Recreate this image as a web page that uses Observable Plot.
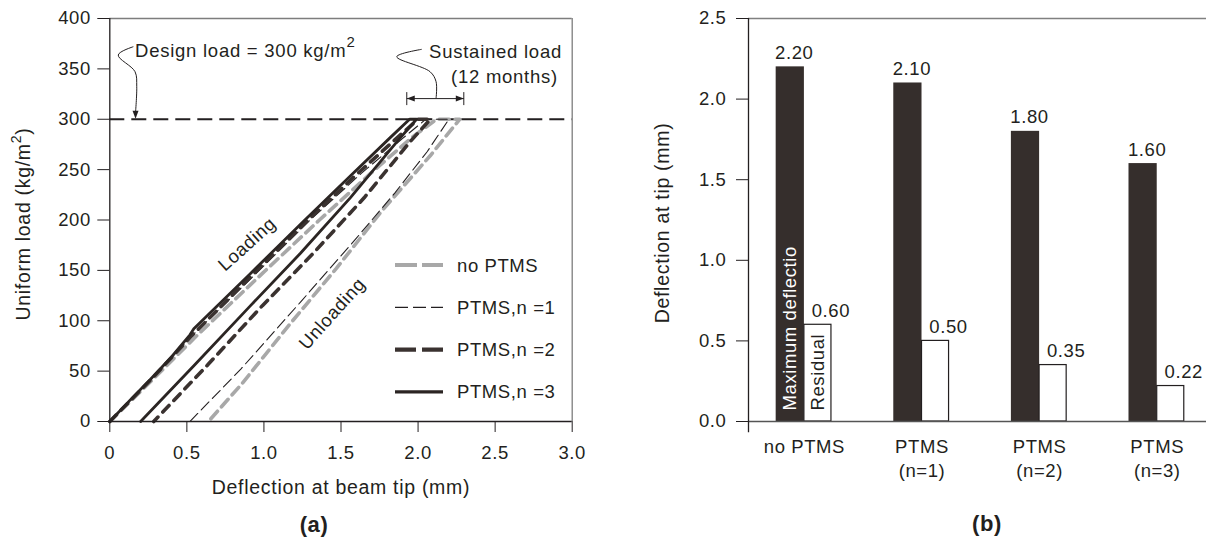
<!DOCTYPE html>
<html>
<head>
<meta charset="utf-8">
<script src="https://cdn.jsdelivr.net/npm/d3@7"></script>
<script src="https://cdn.jsdelivr.net/npm/@observablehq/plot@0.6"></script>
<style>
  body { margin: 0; background: #fff; }
  #wrap { position: relative; width: 1206px; height: 541px; overflow: hidden; }
  #panelA, #panelB { position: absolute; top: 0; }
  #panelA { left: 0; width: 600px; height: 541px; }
  #panelB { left: 600px; width: 606px; height: 541px; }
</style>
</head>
<body>
<div id="wrap"><div id="panelA"></div><div id="panelB"></div></div>
<script>
// ---------------- Panel (a): load–deflection curves (loading -> sustained -> unloading)
const noPTMS_defl = [0, 0.28, 0.57, 0.99, 1.36, 1.69, 1.96, 2.12, 2.27, 2.08, 1.77, 1.47, 1.17, 0.86, 0.64];
const noPTMS_load = [0, 42, 86, 147, 200, 246, 282, 300, 300, 264, 210, 152, 97, 38, 0];
const n1_defl = [0, 0.27, 0.54, 0.95, 1.30, 1.63, 1.90, 2.05, 2.20, 2.06, 1.85, 1.60, 1.24, 0.85, 0.52];
const n1_load = [0, 42, 86, 147, 200, 246, 281, 300, 300, 268, 227, 182, 119, 52, 0];
const n2_defl = [0, 0.27, 0.53, 0.57, 0.93, 1.28, 1.60, 1.86, 2.00, 2.08, 1.95, 1.65, 1.32, 0.99, 0.64, 0.285];
const n2_load = [0, 42, 85, 91, 146, 199, 245, 281, 300, 300, 278, 222, 167, 115, 57, 0];
const n3_defl = [0, 0.13, 0.264, 0.40, 0.52, 0.545, 0.913, 1.259, 1.562, 1.821, 1.945, 1.99, 1.865, 1.56, 1.237, 0.913, 0.55, 0.20];
const n3_load = [0, 21, 42, 64, 86, 92, 147, 199, 244, 282, 300, 300, 278, 222, 167, 115, 56, 0];

const seriesNames = ["no PTMS", "PTMS,n =1", "PTMS,n =2", "PTMS,n =3"];
const xTicksA = [0, 0.5, 1, 1.5, 2, 2.5, 3];
const yTicksA = [0, 50, 100, 150, 200, 250, 300, 350, 400];
const designLoad = 300;
const curveLabels = [
  {text: "Loading", defl: 0.891, load: 176, angle: -42},
  {text: "Unloading", defl: 1.443, load: 107, angle: -48}
];
// annotation anchor points (data units)
const designLabelPos = [0.167, 368];
const designLeader = [[0.156, 371.5], [0.058, 363.3], [0.167, 346.7], [0.178, 331.8], [0.170, 306]];
const sustainedLabelPos = [[2.937, 366.6], [2.911, 341.7]];
const sustainedLeader = [[2.027, 368.9], [1.865, 361.6], [2.081, 346.7], [2.12, 336.8], [2.12, 320.3]];
const sustainedSpan = [1.93, 2.30];
const sustainedSpanLoad = 320;

// ---------------- Panel (b): bars
const barCategories = ["no PTMS", "PTMS\n(n=1)", "PTMS\n(n=2)", "PTMS\n(n=3)"];
const maxDeflection = [2.20, 2.10, 1.80, 1.60];
const residualDeflection = [0.60, 0.50, 0.35, 0.22];
const barSeriesNames = ["Maximum deflectio", "Residual"];
const yTicksB = [0, 0.5, 1.0, 1.5, 2.0, 2.5];

// ---------------- styles
const INK = "#231f20";
const FONT = "'Liberation Sans', Arial, Helvetica, sans-serif";
const baseStyle = {fontFamily: FONT, fontSize: "18.5px", color: INK, background: "transparent", letterSpacing: "0.6px", overflow: "visible"};

const series = [
  {name: seriesNames[0], defl: noPTMS_defl, load: noPTMS_load, stroke: "#a8a8a8", width: 3.6, dash: "10,6", legendDash: "22,5"},
  {name: seriesNames[1], defl: n1_defl, load: n1_load, stroke: INK, width: 1.1, dash: "11,5", legendDash: "13,5"},
  {name: seriesNames[2], defl: n2_defl, load: n2_load, stroke: "#3a3230", width: 3.6, dash: "9,7", legendDash: "21,6"},
  {name: seriesNames[3], defl: n3_defl, load: n3_load, stroke: "#2b2523", width: 2.8, dash: null, legendDash: null}
];
const toPts = s => s.defl.map((d, i) => ({defl: d, load: s.load[i]}));

const plotA = Plot.plot({
  width: 600, height: 541,
  marginLeft: 109.3, marginRight: 28.3, marginTop: 18, marginBottom: 120,
  x: {domain: [0, 3]},
  y: {domain: [0, 400]},
  style: baseStyle,
  marks: [
    Plot.ruleY([designLoad], {stroke: INK, strokeWidth: 2, strokeDasharray: "15,7"}),
    ...series.map(s => Plot.line(toPts(s), {
      x: "defl", y: "load", stroke: s.stroke, strokeWidth: s.width,
      strokeDasharray: s.dash || undefined, strokeLinejoin: "round"
    })),
    Plot.ruleY([400], {stroke: "#7d7d7d", strokeWidth: 1.3}),
    Plot.ruleX([3], {stroke: "#7d7d7d", strokeWidth: 1.3}),
    Plot.ruleX([0], {stroke: INK, strokeWidth: 1.3}),
    Plot.ruleY([0], {stroke: INK, strokeWidth: 1.3}),
    Plot.axisY({ticks: yTicksA, tickSize: 12, tickPadding: 7, label: null, tickFormat: d => String(d)}),
    Plot.axisX({ticks: xTicksA, tickSize: 11, tickPadding: 13, label: null, tickFormat: d => d === 0 ? "0" : d.toFixed(1)}),
    Plot.text(curveLabels, {x: "defl", y: "load", text: "text", rotate: "angle"})
  ]
});
document.getElementById("panelA").appendChild(plotA);

// annotations, titles and legend for panel (a)
{
  const sx = plotA.scale("x"), sy = plotA.scale("y");
  const X = v => sx.apply(v), Y = v => sy.apply(v);
  const svg = d3.select(plotA);
  const g = svg.append("g").attr("font-family", FONT).attr("fill", INK).attr("text-anchor", "start");

  // y title with superscript
  const yt = g.append("text")
    .attr("transform", `translate(23,224) rotate(-90)`)
    .attr("text-anchor", "middle").attr("dominant-baseline", "central")
    .attr("font-size", 19.5).style("letter-spacing", "0.7px");
  yt.append("tspan").text("Uniform load (kg/m");
  yt.append("tspan").attr("dy", -7).attr("font-size", 14).text("2");
  yt.append("tspan").attr("dy", 7).text(")");

  // x title
  g.append("text").attr("x", 341).attr("y", 487).attr("text-anchor", "middle")
    .attr("dominant-baseline", "central").attr("font-size", 19.5).style("letter-spacing", "0.7px")
    .text("Deflection at beam tip (mm)");

  // caption
  g.append("text").attr("x", 314).attr("y", 524).attr("text-anchor", "middle")
    .attr("dominant-baseline", "central").attr("font-size", 22).attr("font-weight", "bold")
    .text("(a)");

  // design load label
  const dt = g.append("text").attr("x", X(designLabelPos[0])).attr("y", Y(designLabelPos[1]) + 6.6)
    .attr("text-anchor", "start").attr("font-size", 18.5).style("letter-spacing", "0.75px");
  dt.append("tspan").text("Design load = 300 kg/m");
  dt.append("tspan").attr("dy", -10).attr("font-size", 15).text("2");

  const line = d3.line().x(d => X(d[0])).y(d => Y(d[1])).curve(d3.curveCatmullRom.alpha(0.5));
  g.append("path").attr("d", line(designLeader)).attr("fill", "none").attr("stroke", INK).attr("stroke-width", 1);
  {
    const tx = X(designLeader[designLeader.length - 1][0]), ty = Y(designLoad);
    g.append("path").attr("d", `M${tx},${ty} L${tx - 3},${ty - 8} L${tx + 3},${ty - 8} Z`).attr("fill", INK);
  }

  // sustained load label
  sustainedLabelPos.forEach((p, i) => {
    g.append("text").attr("x", X(p[0])).attr("y", Y(p[1]) + 6.6).attr("text-anchor", "end")
      .attr("font-size", 18.5).style("letter-spacing", "0.75px")
      .text(i === 0 ? "Sustained load" : "(12 months)");
  });
  g.append("path").attr("d", line(sustainedLeader)).attr("fill", "none").attr("stroke", INK).attr("stroke-width", 1);
  {
    const x1 = X(sustainedSpan[0]), x2 = X(sustainedSpan[1]), yy = Y(sustainedSpanLoad);
    g.append("line").attr("x1", x1).attr("x2", x2).attr("y1", yy).attr("y2", yy).attr("stroke", INK).attr("stroke-width", 1);
    [x1, x2].forEach(x => g.append("line").attr("x1", x).attr("x2", x).attr("y1", yy - 6.5).attr("y2", yy + 6.5)
      .attr("stroke", INK).attr("stroke-width", 1));
    g.append("path").attr("d", `M${x1},${yy} L${x1 + 8},${yy - 3} L${x1 + 8},${yy + 3} Z`).attr("fill", INK);
    g.append("path").attr("d", `M${x2},${yy} L${x2 - 8},${yy - 3} L${x2 - 8},${yy + 3} Z`).attr("fill", INK);
  }

  // legend
  const legTop = 265, legGap = 42.3, legX1 = 395, legX2 = 443, legTextX = 457;
  series.forEach((s, i) => {
    const yy = legTop + i * legGap;
    g.append("line").attr("x1", legX1).attr("x2", legX2).attr("y1", yy).attr("y2", yy)
      .attr("stroke", s.stroke).attr("stroke-width", s.width + (i === 1 ? 0.2 : 0.6))
      .attr("stroke-dasharray", s.legendDash);
    g.append("text").attr("x", legTextX).attr("y", yy).attr("dominant-baseline", "central")
      .attr("text-anchor", "start").attr("font-size", 18.5).style("letter-spacing", "0.6px").text(s.name);
  });
}

// ---------------- Panel (b)
const DARK_W = 0.24, WHITE_W = 0.23;
const xDomainB = [-0.4753, 3.419];
const bars = barCategories.map((c, i) => ({i, c, max: maxDeflection[i], res: residualDeflection[i]}));

const plotB = Plot.plot({
  width: 606, height: 541,
  marginLeft: 148, marginRight: 0, marginTop: 18, marginBottom: 120,
  x: {type: "linear", domain: xDomainB, axis: null},
  y: {type: "linear", domain: [0, 2.5]},
  style: baseStyle,
  marks: [
    Plot.ruleY([2.5], {stroke: "#808080", strokeWidth: 1.3}),
    Plot.rect(bars, {x1: d => d.i - DARK_W, x2: "i", y1: 0, y2: "max", fill: "#352e2c"}),
    Plot.rect(bars, {x1: "i", x2: d => d.i + WHITE_W, y1: 0, y2: "res", fill: "white", stroke: INK, strokeWidth: 1.2}),
    Plot.ruleY([0], {stroke: "#555", strokeWidth: 1.3}),
    Plot.ruleX([xDomainB[0]], {y1: -0.07, y2: 2.5, stroke: INK, strokeWidth: 1.3}),
    Plot.axisY({ticks: yTicksB, tickFormat: d => d.toFixed(1), tickSize: 12, tickPadding: 10, label: null}),
    Plot.text(bars, {x: d => d.i - DARK_W / 2, y: "max", text: d => d.max.toFixed(2), dx: 4, dy: -14}),
    Plot.text(bars, {x: d => d.i + WHITE_W / 2, y: "res", text: d => d.res.toFixed(2), dx: 13, dy: -14}),
    Plot.text(bars, {x: "i", y: 0, text: "c", lineAnchor: "top", dy: 13.5, lineHeight: 1.34}),
    Plot.text([barSeriesNames[0]], {x: -DARK_W / 2, y: 0, text: d => d, rotate: -90, textAnchor: "start", fill: "white", dy: -11}),
    Plot.text([barSeriesNames[1]], {x: WHITE_W / 2, y: 0, text: d => d, rotate: -90, textAnchor: "start", fill: INK, dy: -11})
  ]
});
document.getElementById("panelB").appendChild(plotB);

{
  const g = d3.select(plotB).append("g").attr("font-family", FONT).attr("fill", INK);
  g.append("text").attr("transform", `translate(62,223) rotate(-90)`)
    .attr("text-anchor", "middle").attr("dominant-baseline", "central")
    .attr("font-size", 19.5).style("letter-spacing", "0.7px")
    .text("Deflection at tip (mm)");
  g.append("text").attr("x", 387).attr("y", 523).attr("text-anchor", "middle")
    .attr("dominant-baseline", "central").attr("font-size", 22).attr("font-weight", "bold")
    .text("(b)");
}
</script>
</body>
</html>
